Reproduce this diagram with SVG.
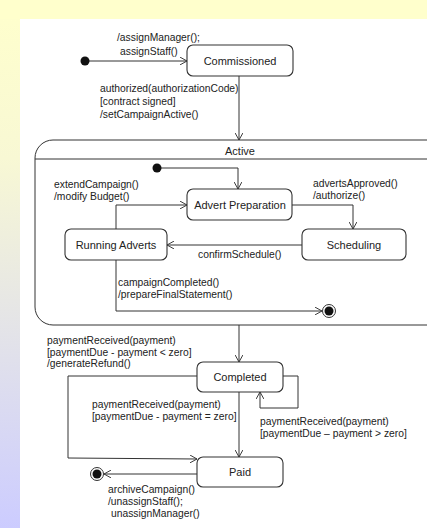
<svg xmlns="http://www.w3.org/2000/svg" width="427" height="528" viewBox="0 0 427 528">
<defs>
<linearGradient id="side" x1="0" y1="0" x2="0" y2="1">
<stop offset="0" stop-color="#FFFFCC"/>
<stop offset="0.3" stop-color="#F8F8D4"/>
<stop offset="1" stop-color="#CCCCFF"/>
</linearGradient>
<marker id="arr" viewBox="0 0 10 10" refX="9" refY="5" markerWidth="8" markerHeight="8" markerUnits="userSpaceOnUse" orient="auto">
<path d="M0,0 L9,5 L0,10" fill="none" stroke="#333" stroke-width="1.2"/>
</marker>
<style>
.st{fill:#fff;stroke:#333;stroke-width:1.1}
.ln{fill:none;stroke:#333;stroke-width:1}
.nm{font-family:"Liberation Sans",Arial,sans-serif;font-size:11px;fill:#222;text-anchor:middle}
.lb{font-family:"Liberation Sans",Arial,sans-serif;font-size:10.3px;fill:#222}
.dot{fill:#111}
</style>
</defs>
<rect x="0" y="0" width="427" height="528" fill="url(#side)"/>
<rect x="0" y="0" width="427" height="19" fill="#FFFFCC"/>
<rect x="20" y="19" width="407" height="509" fill="#FFFFFF"/>

<g id="Active">
<path class="ln" d="M430,140 H53 A18,18 0 0 0 35,158 V307 A18,18 0 0 0 53,325 H430" stroke-width="1.1"/>
<line class="ln" x1="35" y1="159" x2="430" y2="159"/>
<text class="nm" x="240" y="155" font-size="10.5">Active</text>
</g>

<g id="connectors">
<path class="ln" d="M85,61 H187" marker-end="url(#arr)"/>
<path class="ln" d="M239,76 V140" marker-end="url(#arr)"/>
<path class="ln" d="M157,168 H238 V189" marker-end="url(#arr)"/>
<path class="ln" d="M292,205 H353 V229" marker-end="url(#arr)"/>
<path class="ln" d="M302,245 H167" marker-end="url(#arr)"/>
<path class="ln" d="M116,229 V205 H187" marker-end="url(#arr)"/>
<path class="ln" d="M116,260 V311 H322" marker-end="url(#arr)"/>
<path class="ln" d="M239,325 V362" marker-end="url(#arr)"/>
<path class="ln" d="M197,376 H68 V458 L197,459" marker-end="url(#arr)"/>
<path class="ln" d="M283,376 H298 V408 H260 V392" marker-end="url(#arr)"/>
<path class="ln" d="M239,392 V457" marker-end="url(#arr)"/>
<path class="ln" d="M197,474 H104" marker-end="url(#arr)"/>
<text class="lb" x="117" y="41">/assignManager();</text>
<text class="lb" x="120" y="55">assignStaff()</text>
<text class="lb" x="100" y="92">authorized(authorizationCode)</text>
<text class="lb" x="100" y="105">[contract signed]</text>
<text class="lb" x="100" y="118">/setCampaignActive()</text>
<text class="lb" x="54" y="188">extendCampaign()</text>
<text class="lb" x="54" y="200">/modify Budget()</text>
<text class="lb" x="313" y="187">advertsApproved()</text>
<text class="lb" x="313" y="199">/authorize()</text>
<text class="lb" x="198" y="258">confirmSchedule()</text>
<text class="lb" x="118" y="286">campaignCompleted()</text>
<text class="lb" x="118" y="298">/prepareFinalStatement()</text>
<text class="lb" x="47" y="344">paymentReceived(payment)</text>
<text class="lb" x="47" y="356">[paymentDue - payment &lt; zero]</text>
<text class="lb" x="47" y="367">/generateRefund()</text>
<text class="lb" x="92" y="408">paymentReceived(payment)</text>
<text class="lb" x="92" y="420">[paymentDue - payment = zero]</text>
<text class="lb" x="260" y="425">paymentReceived(payment)</text>
<text class="lb" x="260" y="437">[paymentDue – payment &gt; zero]</text>
<text class="lb" x="108" y="493">archiveCampaign()</text>
<text class="lb" x="108" y="505">/unassignStaff();</text>
<text class="lb" x="111" y="517">unassignManager()</text>
</g>

<g id="init1"><circle class="dot" cx="85" cy="61" r="4.5"/></g>
<g id="Commissioned">
<rect class="st" x="187" y="45" width="106" height="31" rx="6"/>
<text class="nm" x="240" y="65">Commissioned</text>
</g>
<g id="init2"><circle class="dot" cx="157" cy="168" r="4.5"/></g>
<g id="AdvertPreparation">
<rect class="st" x="187" y="189" width="105" height="31" rx="6"/>
<text class="nm" x="240" y="209">Advert Preparation</text>
</g>
<g id="Scheduling">
<rect class="st" x="302" y="229" width="104" height="31" rx="6"/>
<text class="nm" x="354" y="249">Scheduling</text>
</g>
<g id="RunningAdverts">
<rect class="st" x="65" y="229" width="102" height="31" rx="6"/>
<text class="nm" x="116" y="249">Running Adverts</text>
</g>
<g id="final1">
<circle cx="329" cy="311" r="6.5" fill="#fff" stroke="#333" stroke-width="1"/>
<circle class="dot" cx="329" cy="311" r="4.5"/>
</g>
<g id="Completed">
<rect class="st" x="197" y="362" width="86" height="30" rx="6"/>
<text class="nm" x="240" y="381">Completed</text>
</g>
<g id="Paid">
<rect class="st" x="197" y="457" width="86" height="30" rx="6"/>
<text class="nm" x="240" y="476">Paid</text>
</g>
<g id="final2">
<circle cx="97" cy="474" r="6.5" fill="#fff" stroke="#333" stroke-width="1"/>
<circle class="dot" cx="97" cy="474" r="4.5"/>
</g>
</svg>
